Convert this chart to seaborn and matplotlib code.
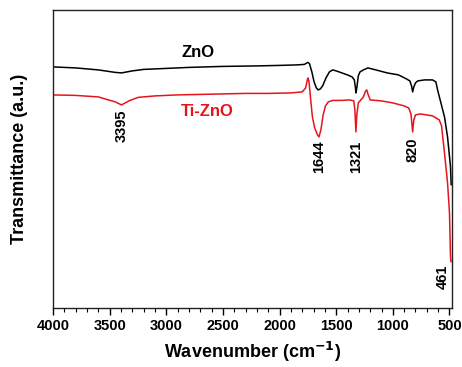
import numpy as np
import pandas as pd
import matplotlib
matplotlib.use("Agg")
import matplotlib.pyplot as plt
from matplotlib.ticker import MultipleLocator
import seaborn as sns

# ZnO spectrum (wavenumber, transmittance a.u.)
zno_wn = [4000, 3800, 3600, 3450, 3395, 3300, 3200, 3000, 2800, 2500, 2200, 2000, 1850,
          1780, 1760, 1749, 1735, 1715, 1695, 1675, 1660, 1640, 1620, 1590, 1560, 1530,
          1500, 1450, 1400, 1360, 1340, 1330, 1326, 1318, 1305, 1290, 1260, 1220, 1150,
          1050, 950, 880, 850, 835, 825, 815, 800, 780, 720, 650, 620, 605, 544, 517, 491, 485]
zno_t = [233, 232, 230, 227.5, 227, 229, 230.5, 231.5, 232.5, 233.5, 234, 234.5, 235,
         235.5, 237, 237.5, 236, 228, 218, 212, 210, 211, 214, 222, 228, 230,
         229, 227, 225, 223, 220, 212, 207, 212, 224, 228, 230, 232, 230,
         227, 225, 221, 219, 214, 208, 213, 217, 219, 220, 220, 218, 210, 183, 163, 133, 115]

# Ti-ZnO spectrum
tizno_wn = [4000, 3800, 3600, 3450, 3395, 3330, 3250, 3100, 2900, 2700, 2500, 2300, 2100,
            1900, 1800, 1770, 1755, 1749, 1740, 1725, 1710, 1690, 1665, 1652, 1635, 1615,
            1595, 1570, 1530, 1450, 1380, 1345, 1335, 1326, 1318, 1305, 1290, 1260, 1240,
            1230, 1220, 1200, 1100, 1000, 900, 860, 840, 825, 815, 800, 760, 700, 650, 620,
            590, 570, 544, 517, 500, 491, 487]
tizno_t = [205, 204.5, 203, 198, 195, 199, 202.5, 204, 205, 205.5, 206, 206.5, 206.5,
           207, 208, 212, 220, 222, 218, 200, 183, 172, 165, 163, 170, 185,
           194, 198, 199.5, 199.5, 200, 199, 190, 168, 185, 197, 199, 203, 209,
           210, 206, 200, 199, 197, 194, 192, 186, 168, 180, 185, 186, 185, 184, 182,
           180, 174, 147, 117, 87, 43, 38]

peak_labels = ["3395", "1644", "1321", "820", "461"]
peak_x = [3393, 1652, 1326, 825, 561]
peak_y = [174, 143, 143, 150, 23]

sns.set_style("ticks")
plt.rcParams['font.family'] = ['Liberation Sans', 'DejaVu Sans']
plt.rcParams['font.weight'] = 'bold'
plt.rcParams['text.color'] = 'black'
plt.rcParams['axes.labelcolor'] = 'black'
plt.rcParams['xtick.color'] = 'black'
plt.rcParams['xtick.labelcolor'] = 'black'

fig = plt.figure(figsize=(4.62, 3.67), dpi=100)
ax = fig.add_axes([0.1147, 0.161, 0.8636, 0.812])

df_zno = pd.DataFrame({"wn": zno_wn, "t": zno_t})
df_ti = pd.DataFrame({"wn": tizno_wn, "t": tizno_t})
sns.lineplot(data=df_zno, x="wn", y="t", sort=False, color="black", lw=1.1, ax=ax)
sns.lineplot(data=df_ti, x="wn", y="t", sort=False, color="#e8141c", lw=1.1, ax=ax)

ax.set_xlim(4000, 478)
ax.set_ylim(-8, 290)
ax.xaxis.set_major_locator(MultipleLocator(500))
ax.xaxis.set_minor_locator(MultipleLocator(100))
ax.set_yticks([])
ax.tick_params(axis='x', which='major', length=5, width=1, direction='out', labelsize=10.5, pad=3)
ax.tick_params(axis='x', which='minor', length=3, width=0.8, direction='out')
for lab in ax.get_xticklabels():
    lab.set_fontweight('bold')
for s in ax.spines.values():
    s.set_visible(True)
    s.set_linewidth(1.0)
    s.set_color('#222222')

ax.set_xlabel("Wavenumber (cm$^{\\mathbf{-1}}$)", fontsize=13, fontweight='bold', labelpad=5)
ax.set_ylabel("Transmittance (a.u.)", fontsize=13, fontweight='bold', labelpad=18)

ax.text(2716, 247, "ZnO", color="black", fontsize=12, fontweight='bold', ha='center', va='center')
ax.text(2640, 188, "Ti-ZnO", color="#e8141c", fontsize=12, fontweight='bold', ha='center', va='center')
for lab, x, y in zip(peak_labels, peak_x, peak_y):
    ax.text(x, y, lab, rotation=90, fontsize=10.5, fontweight='bold', ha='center', va='center')

fig.savefig("out.png", dpi=100)
